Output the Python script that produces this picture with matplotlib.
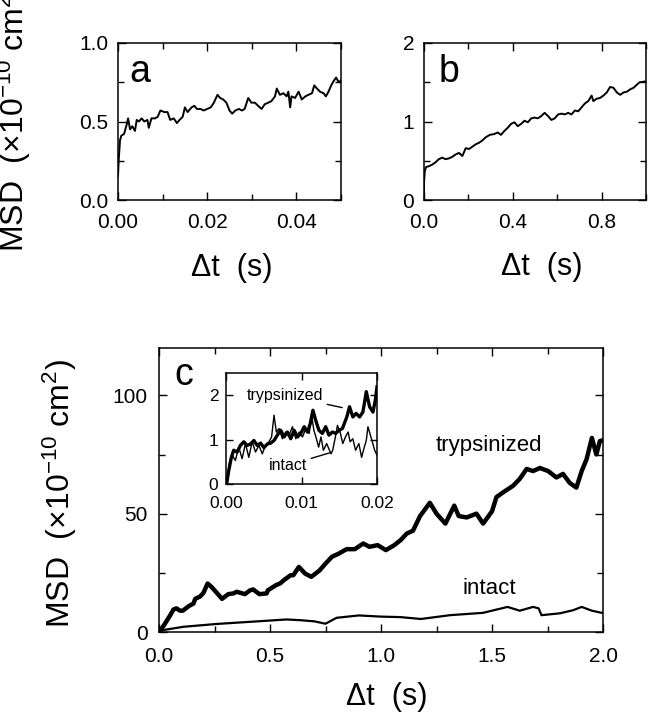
import matplotlib
matplotlib.use("Agg")
import matplotlib.pyplot as plt
from matplotlib.ticker import MultipleLocator

plt.rcParams['font.family'] = ['Liberation Sans', 'DejaVu Sans']
plt.rcParams['mathtext.fontset'] = 'custom'
plt.rcParams['mathtext.rm'] = 'Liberation Sans'
plt.rcParams['mathtext.it'] = 'Liberation Sans:italic'
plt.rcParams['mathtext.bf'] = 'Liberation Sans:bold'

# ---------------- data ----------------
t_a = [0, 0.00015, 0.00045, 0.00075, 0.00135, 0.00195, 0.00226, 0.0027, 0.0032, 0.0038,
       0.0042, 0.0047, 0.0053, 0.0059, 0.0066, 0.0069, 0.0075, 0.0083, 0.0089, 0.0095,
       0.0104, 0.0111, 0.0117, 0.0125, 0.0132, 0.0138, 0.0145, 0.0150, 0.0156, 0.0165,
       0.0171, 0.0177, 0.0185, 0.0192, 0.0200, 0.0208, 0.0215, 0.0223, 0.0229, 0.0236,
       0.0243, 0.0250, 0.0256, 0.0263, 0.0271, 0.0278, 0.0284, 0.0292, 0.0299, 0.0307,
       0.0314, 0.0322, 0.0329, 0.0337, 0.0344, 0.0352, 0.0356, 0.0363, 0.0371, 0.0378,
       0.0382, 0.0386, 0.0389, 0.0397, 0.0405, 0.0412, 0.0420, 0.0427, 0.0435, 0.0440,
       0.0446, 0.0453, 0.0461, 0.0466, 0.0472, 0.0478, 0.0484, 0.0489, 0.0495, 0.0499]
msd_a = [0.15, 0.25, 0.38, 0.41, 0.42, 0.48, 0.52, 0.45, 0.47, 0.44,
         0.51, 0.50, 0.52, 0.50, 0.51, 0.46, 0.52, 0.52, 0.53, 0.57,
         0.56, 0.56, 0.51, 0.52, 0.49, 0.51, 0.53, 0.59, 0.56, 0.59,
         0.60, 0.58, 0.58, 0.57, 0.58, 0.59, 0.62, 0.67, 0.65, 0.64,
         0.62, 0.57, 0.55, 0.57, 0.58, 0.57, 0.58, 0.65, 0.62, 0.62,
         0.60, 0.58, 0.61, 0.62, 0.63, 0.66, 0.71, 0.67, 0.68, 0.66,
         0.69, 0.59, 0.66, 0.65, 0.69, 0.64, 0.66, 0.67, 0.68, 0.73,
         0.71, 0.69, 0.68, 0.66, 0.69, 0.73, 0.76, 0.78, 0.75, 0.76]

t_b = [0.0, 0.0005, 0.0035, 0.0095, 0.0216, 0.0367, 0.0518, 0.0669, 0.0821, 0.0972,
       0.1123, 0.1274, 0.1425, 0.1577, 0.1728, 0.1879, 0.2030, 0.2182, 0.2333, 0.2484,
       0.2635, 0.2786, 0.2968, 0.3164, 0.3318, 0.3470, 0.3620, 0.3771, 0.3922, 0.4073,
       0.4225, 0.4376, 0.4527, 0.4678, 0.4830, 0.4981, 0.5132, 0.5283, 0.5434, 0.5586,
       0.5737, 0.5888, 0.6039, 0.6190, 0.6342, 0.6493, 0.6644, 0.6795, 0.6946, 0.7098,
       0.7249, 0.7400, 0.7551, 0.7627, 0.7778, 0.7929, 0.8080, 0.8232, 0.8383, 0.8534,
       0.8685, 0.8836, 0.8988, 0.9139, 0.9290, 0.9441, 0.9592, 0.9713, 0.9967]
msd_b = [0.07, 0.24, 0.37, 0.42, 0.43, 0.45, 0.48, 0.52, 0.54, 0.52,
         0.53, 0.55, 0.58, 0.60, 0.56, 0.66, 0.65, 0.68, 0.71, 0.73,
         0.76, 0.80, 0.83, 0.84, 0.86, 0.83, 0.88, 0.92, 0.97, 0.99,
         0.94, 0.97, 1.01, 0.99, 1.04, 1.05, 1.04, 1.07, 1.11, 1.07,
         1.02, 1.04, 1.09, 1.10, 1.09, 1.11, 1.09, 1.14, 1.13, 1.18,
         1.23, 1.26, 1.33, 1.26, 1.29, 1.30, 1.33, 1.37, 1.44, 1.43,
         1.37, 1.34, 1.37, 1.38, 1.41, 1.43, 1.47, 1.50, 1.51]

t_c_tryp = [0.0, 0.022, 0.05, 0.065, 0.078, 0.095, 0.107, 0.135, 0.155, 0.163,
            0.185, 0.2, 0.219, 0.237, 0.256, 0.284, 0.312, 0.335, 0.35, 0.387,
            0.41, 0.424, 0.452, 0.485, 0.49, 0.527, 0.545, 0.564, 0.593, 0.605,
            0.63, 0.658, 0.686, 0.723, 0.751, 0.779, 0.807, 0.845, 0.882, 0.92,
            0.948, 0.985, 1.022, 1.06, 1.088, 1.116, 1.144, 1.176, 1.22, 1.25,
            1.29, 1.33, 1.35, 1.386, 1.43, 1.46, 1.5, 1.52, 1.55, 1.595,
            1.625, 1.656, 1.685, 1.716, 1.753, 1.79, 1.82, 1.85, 1.88, 1.904,
            1.926, 1.95, 1.97, 1.986, 2.0]
msd_c_tryp = [0.0, 2.8, 7.0, 9.5, 10.0, 9.0, 9.0, 11.0, 12.0, 14.0,
              15.0, 16.5, 20.5, 19.0, 17.0, 14.0, 16.0, 16.3, 17.0, 16.0,
              17.6, 18.0, 16.0, 16.3, 17.6, 19.8, 20.5, 22.0, 24.0, 24.0,
              27.5, 24.7, 23.3, 26.0, 29.0, 31.8, 33.0, 35.0, 35.0, 37.4,
              36.0, 36.7, 34.6, 36.7, 38.8, 41.6, 42.8, 49.0, 54.6, 50.0,
              45.8, 53.4, 49.0, 48.4, 50.0, 45.8, 51.0, 57.0, 59.0, 61.8,
              64.7, 68.9, 68.0, 69.3, 68.0, 65.3, 66.8, 63.0, 61.0, 68.0,
              73.0, 82.0, 75.0, 80.7, 81.0]

t_c_int = [0.0, 0.004, 0.11, 0.26, 0.41, 0.575, 0.635, 0.7, 0.75, 0.8,
           0.9, 1.0, 1.086, 1.18, 1.31, 1.46, 1.57, 1.625, 1.685, 1.71,
           1.723, 1.806, 1.865, 1.904, 1.95, 1.994]
msd_c_int = [0.0, 0.6, 2.2, 3.4, 4.3, 5.3, 5.0, 4.5, 3.5, 6.0,
             7.0, 6.5, 6.3, 5.5, 7.1, 8.1, 10.6, 9.0, 10.6, 10.0,
             7.1, 7.9, 9.2, 10.6, 9.0, 8.1]

t_in_tryp = [0.00013, 0.00036, 0.00071, 0.00102, 0.00147, 0.00191, 0.00236, 0.0028, 0.00324, 0.00369,
             0.00413, 0.00458, 0.00502, 0.00547, 0.00591, 0.00636, 0.0068, 0.00724, 0.00769, 0.00813,
             0.00858, 0.00902, 0.00947, 0.00991, 0.01036, 0.0108, 0.01116, 0.01151, 0.01187, 0.01231,
             0.01276, 0.0132, 0.01364, 0.01409, 0.01453, 0.01498, 0.01542, 0.01600, 0.01636, 0.0168,
             0.01724, 0.01769, 0.01813, 0.01836, 0.01858, 0.01902, 0.01947, 0.01978, 0.02]
msd_in_tryp = [0.05, 0.3, 0.6, 0.76, 0.72, 0.87, 0.95, 0.87, 0.9, 0.98,
               0.87, 0.92, 0.82, 0.9, 0.92, 0.98, 1.1, 1.21, 1.06, 1.17,
               1.02, 1.21, 1.06, 1.14, 1.29, 1.17, 1.36, 1.66, 1.44, 1.21,
               1.14, 1.29, 1.1, 1.17, 1.14, 1.21, 1.25, 1.51, 1.74, 1.51,
               1.59, 1.51, 1.62, 1.85, 2.08, 1.74, 1.62, 1.89, 2.19]

t_in_int = [0.00013, 0.00044, 0.0008, 0.00124, 0.00169, 0.00213, 0.00258, 0.00302, 0.00347, 0.00391,
            0.00436, 0.0048, 0.00524, 0.00569, 0.00604, 0.00636, 0.00667, 0.00702, 0.00747, 0.00791,
            0.00836, 0.0088, 0.00924, 0.00969, 0.01013, 0.01058, 0.01102, 0.01133, 0.01164, 0.01191,
            0.01227, 0.01258, 0.0129, 0.01333, 0.01391, 0.01413, 0.01449, 0.01476, 0.01511, 0.01547,
            0.01582, 0.01618, 0.01644, 0.01680, 0.01716, 0.0176, 0.01796, 0.01827, 0.01858, 0.01880,
            0.01938, 0.01969, 0.02]
msd_in_int = [0.05, 0.46, 0.65, 0.53, 0.83, 0.57, 0.91, 0.6, 0.95, 0.72,
              0.87, 0.68, 0.87, 0.95, 1.06, 1.55, 1.17, 1.25, 1.02, 1.17,
              1.1, 1.29, 1.02, 1.17, 1.06, 1.25, 1.14, 1.55, 1.21, 1.06,
              0.83, 1.06, 0.76, 0.91, 0.68, 0.76, 1.06, 1.32, 1.17, 0.91,
              1.06, 1.17, 0.95, 1.02, 0.76, 0.91, 0.6, 0.8, 0.98, 1.29,
              0.95, 0.76, 0.65]

# ---------------- figure ----------------
W, H = 651, 720
fig = plt.figure(figsize=(W / 100, H / 100), dpi=100)


def px_axes(left, top, right, bottom):
    return fig.add_axes([left / W, 1 - bottom / H, (right - left) / W, (bottom - top) / H])


def style(ax, size=15, major=6, minor=4, xpad=9.5, ypad=7.5):
    for s in ax.spines.values():
        s.set_linewidth(1.1)
    ax.tick_params(which='both', direction='in', top=True, right=True, width=1.0)
    ax.tick_params(which='major', length=major, labelsize=size)
    ax.tick_params(axis='x', which='major', pad=xpad)
    ax.tick_params(axis='y', which='major', pad=ypad)
    ax.tick_params(which='minor', length=minor)


LW_SMALL = 1.4

# panel a
ax_a = px_axes(118, 43, 341, 200)
ax_a.plot(t_a, msd_a, color='black', lw=LW_SMALL)
ax_a.set_xlim(0, 0.05)
ax_a.set_ylim(0, 1.0)
ax_a.set_xticks([0, 0.02, 0.04])
ax_a.set_xticklabels(['0.00', '0.02', '0.04'])
ax_a.set_yticks([0, 0.5, 1.0])
ax_a.set_yticklabels(['0.0', '0.5', '1.0'])
ax_a.xaxis.set_minor_locator(MultipleLocator(0.01))
ax_a.yaxis.set_minor_locator(MultipleLocator(0.25))
style(ax_a, xpad=9, ypad=7)
ax_a.text(0.05, 0.75, 'a', transform=ax_a.transAxes, fontsize=27, ha='left', va='baseline')

# panel b
ax_b = px_axes(424, 43, 646, 200)
ax_b.plot(t_b, msd_b, color='black', lw=LW_SMALL)
ax_b.set_xlim(0, 1.0)
ax_b.set_ylim(0, 2)
ax_b.set_xticks([0, 0.4, 0.8])
ax_b.set_xticklabels(['0.0', '0.4', '0.8'])
ax_b.set_yticks([0, 1, 2])
ax_b.xaxis.set_minor_locator(MultipleLocator(0.2))
ax_b.yaxis.set_minor_locator(MultipleLocator(0.5))
style(ax_b, xpad=9, ypad=7)
ax_b.text(0.065, 0.75, 'b', transform=ax_b.transAxes, fontsize=27, ha='left', va='baseline')

# panel c
ax_c = px_axes(159, 348, 603, 632)
ax_c.plot(t_c_tryp, msd_c_tryp, color='black', lw=3.2)
ax_c.plot(t_c_int, msd_c_int, color='black', lw=1.6)
ax_c.set_xlim(0, 2.0)
ax_c.set_ylim(0, 120)
ax_c.set_xticks([0, 0.5, 1.0, 1.5, 2.0])
ax_c.set_xticklabels(['0.0', '0.5', '1.0', '1.5', '2.0'])
ax_c.set_yticks([0, 50, 100])
ax_c.xaxis.set_minor_locator(MultipleLocator(0.25))
ax_c.yaxis.set_minor_locator(MultipleLocator(25))
style(ax_c, xpad=10.5, ypad=8)
ax_c.text(0.034, 0.87, 'c', transform=ax_c.transAxes, fontsize=27, ha='left', va='baseline')
ax_c.text(1.485, 79, 'trypsinized', fontsize=16, ha='center', va='center')
ax_c.text(1.487, 18.5, 'intact', fontsize=16, ha='center', va='center')

# inset
ax_i = px_axes(226, 373, 377, 484)
ax_i.plot(t_in_tryp, msd_in_tryp, color='black', lw=2.4)
ax_i.plot(t_in_int, msd_in_int, color='black', lw=1.0)
ax_i.set_xlim(0, 0.02)
ax_i.set_ylim(0, 2.5)
ax_i.set_xticks([0, 0.01, 0.02])
ax_i.set_xticklabels(['0.00', '0.01', '0.02'])
ax_i.set_yticks([0, 1, 2])
style(ax_i, size=12.5, major=5, minor=3, xpad=8.5, ypad=5.5)
ax_i.annotate('trypsinized', xy=(0.0154, 1.72), xytext=(0.0078, 2.0),
              fontsize=11.5, ha='center', va='center',
              arrowprops=dict(arrowstyle='-', lw=1.0, color='black', shrinkA=1, shrinkB=0))
ax_i.annotate('intact', xy=(0.0137, 0.7), xytext=(0.0082, 0.42),
              fontsize=11.5, ha='center', va='center',
              arrowprops=dict(arrowstyle='-', lw=1.0, color='black', shrinkA=1, shrinkB=0))

# axis labels (figure coordinates from pixels)
ylab = r'MSD  (×10$^{\mathrm{-10}}$ cm$^{\mathrm{2}}$)'
fig.text(14 / W, 1 - 118 / H, ylab, rotation=90, fontsize=23, ha='center', va='center')
fig.text(60 / W, 1 - 494 / H, ylab, rotation=90, fontsize=23, ha='center', va='center')
xlab = 'Δt  (s)'
fig.text(232 / W, 1 - 268 / H, xlab, fontsize=22, ha='center', va='center')
fig.text(542 / W, 1 - 267 / H, xlab, fontsize=22, ha='center', va='center')
fig.text(387 / W, 1 - 697 / H, xlab, fontsize=22, ha='center', va='center')

fig.savefig('out.png', dpi=100)
